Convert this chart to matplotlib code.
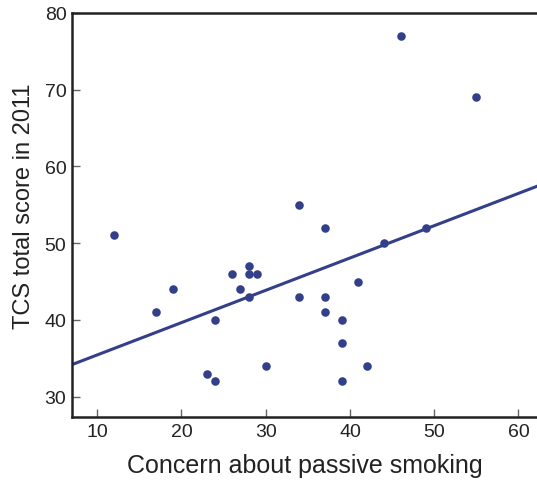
import numpy as np
import matplotlib.pyplot as plt

# concern about passive smoking vs TCS total score in 2011
concern = [12, 17, 19, 23, 24, 24, 26, 27, 28, 28, 28, 29, 30, 34, 34,
           37, 37, 37, 39, 39, 39, 41, 42, 44, 46, 49, 55]
tcs = [51, 41, 44, 33, 40, 32, 46, 44, 47, 46, 43, 46, 34, 55, 43,
       52, 43, 41, 40, 37, 32, 45, 34, 50, 77, 52, 69]

x_ticks = [10, 20, 30, 40, 50, 60]
y_ticks = [30, 40, 50, 60, 70, 80]

navy = "#343f8a"

plt.rcParams["font.family"] = ["Liberation Sans", "DejaVu Sans"]

fig = plt.figure(figsize=(5.37, 4.81), dpi=100)
ax = fig.add_axes([0.134, 0.131, 0.866, 0.840])

ax.scatter(concern, tcs, s=38, color=navy, zorder=3, linewidths=0)

# least squares line
slope, intercept = np.polyfit(concern, tcs, 1)
xs = np.array([7, 62.2])
ax.plot(xs, intercept + slope * xs, color=navy, lw=2.2, zorder=2)

ax.set_xlim(7, 62.2)
ax.set_ylim(27.35, 80)
ax.set_xticks(x_ticks)
ax.set_yticks(y_ticks)

ax.spines["right"].set_visible(False)
for s in ["left", "bottom", "top"]:
    ax.spines[s].set_linewidth(1.8)
    ax.spines[s].set_color("#222222")

ax.tick_params(direction="in", length=6, width=1, color="#666666",
               labelsize=14, labelcolor="#222222", pad=4)

ax.set_xlabel("Concern about passive smoking", fontsize=18, color="#222222", labelpad=10)
ax.set_ylabel("TCS total score in 2011", fontsize=17, color="#222222")
ax.yaxis.set_label_coords(-0.08, 0.5235)

fig.savefig("out.png", dpi=100)
